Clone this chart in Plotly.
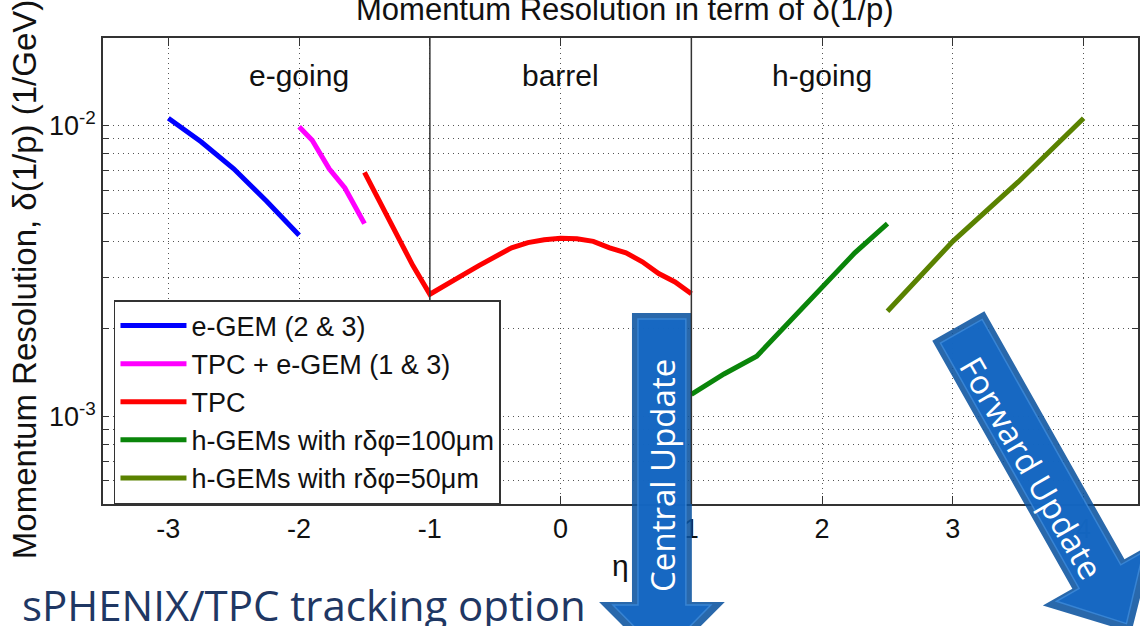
import plotly.graph_objects as go
import numpy as np

# ---------------- data ----------------
eta_egem = [-3.0, -2.75, -2.5, -2.25, -2.0]
res_egem = [0.0106, 0.0088, 0.0071, 0.0055, 0.0042]

eta_tpc_egem = [-2.0, -1.9, -1.77, -1.65, -1.5]
res_tpc_egem = [0.0099, 0.0089, 0.0071, 0.0061, 0.0046]

eta_tpc = [-1.5, -1.385, -1.256, -1.13, -1.0, -0.875, -0.75, -0.625, -0.5, -0.375, -0.25, -0.125,
           0.0, 0.125, 0.25, 0.375, 0.5, 0.625, 0.75, 0.875, 1.0]
res_tpc = [0.0069, 0.0055, 0.0042, 0.0033, 0.00263, 0.00285, 0.00306, 0.0033, 0.00356, 0.0038,
           0.00396, 0.00405, 0.0041, 0.00408, 0.0040, 0.0038, 0.00365, 0.0034, 0.0031, 0.0029,
           0.00264]

eta_h100 = [1.0, 1.25, 1.5, 1.71, 2.0, 2.25, 2.5]
res_h100 = [0.00119, 0.0014, 0.00161, 0.00203, 0.0028, 0.00365, 0.0046]

eta_h50 = [2.5, 3.0, 3.5, 4.0]
res_h50 = [0.0023, 0.0040, 0.0064, 0.0106]

series_names = ["e-GEM (2 &amp; 3)", "TPC + e-GEM (1 &amp; 3)", "TPC",
                "h-GEMs with rδφ=100μm", "h-GEMs with rδφ=50μm"]
series_colors = ["#0000FF", "#FF00FF", "#FF0000", "#0A850A", "#5A8200"]

region_labels = ["e-going", "barrel", "h-going"]
region_centers = [-2, 0, 2]
region_bounds = [-1, 1]

x_ticks = [-3, -2, -1, 0, 1, 2, 3, 4]
y_ticks = [5e-4, 6e-4, 7e-4, 8e-4, 9e-4, 1e-3, 2e-3, 3e-3, 4e-3, 5e-3, 6e-3, 7e-3, 8e-3, 9e-3, 1e-2]
y_ticktext = ["" if v not in (1e-3, 1e-2) else ("10<sup>-3</sup>" if v == 1e-3 else "10<sup>-2</sup>")
              for v in y_ticks]

# ---------------- layout geometry (pixels) ----------------
W, H = 1140, 626
L, R, T, B = 103, 0, 38, 122
PW = W - L - R
PH = H - T - B
X_RANGE = [-3.5, -3.5 + PW / 131.0]
Y_RANGE = [np.log10(5e-4), np.log10(2e-2)]


def px(xp):
    return (xp - L) / PW


def py(yp):
    return (H - B - yp) / PH


FONT = "Liberation Sans, Arial, sans-serif"
SLIDE_FONT = "Open Sans, sans-serif"

fig = go.Figure()
for xs, ys, name, col in zip([eta_egem, eta_tpc_egem, eta_tpc, eta_h100, eta_h50],
                             [res_egem, res_tpc_egem, res_tpc, res_h100, res_h50],
                             series_names, series_colors):
    fig.add_trace(go.Scatter(x=xs, y=ys, mode="lines", name=name,
                             line=dict(color=col, width=5)))

shapes = []


def arrow_path(origin, theta_deg, shaft_hw, head_start, head_hw, tip):
    th = np.radians(theta_deg)
    d = np.array([np.cos(th), np.sin(th)])
    n = np.array([-d[1], d[0]])
    o = np.array(origin, dtype=float)
    local = [(0, -shaft_hw), (head_start, -shaft_hw), (head_start, -head_hw), (tip, 0),
             (head_start, head_hw), (head_start, shaft_hw), (0, shaft_hw)]
    pts = [o + a * d + c * n for a, c in local]
    return "M " + " L ".join(f"{px(p[0]):.5f},{py(p[1]):.5f}" for p in pts) + " Z"


def add_arrow(origin, theta, shaft_hw, head_start, head_hw, tip):
    shapes.append(dict(type="path", xref="paper", yref="paper",
                       path=arrow_path(origin, theta, shaft_hw, head_start, head_hw, tip),
                       fillcolor="#0B539F", line=dict(width=0), opacity=0.88, layer="above"))
    o = np.array(origin, dtype=float)
    th = np.radians(theta)
    d = np.array([np.cos(th), np.sin(th)])
    o2 = o + 6 * d
    shapes.append(dict(type="path", xref="paper", yref="paper",
                       path=arrow_path(o2, theta, shaft_hw - 6, head_start - 3, head_hw - 14, tip - 16),
                       fillcolor="#1569C6", line=dict(color="#3A88DA", width=1.5),
                       opacity=0.88, layer="above"))


# Central update arrow (vertical)
add_arrow((663, 313), 90, 30, 289, 63, 352)
# Forward update arrow (diagonal)
add_arrow((960, 326), 60.5, 30, 285, 64, 352)

# region boundaries drawn on top
for b in region_bounds:
    shapes.append(dict(type="line", xref="x", yref="paper", x0=b, x1=b, y0=0, y1=1,
                       line=dict(color="#333333", width=1.5), layer="above"))

annotations = []
for lab, c in zip(region_labels, region_centers):
    annotations.append(dict(x=c, y=py(75), xref="x", yref="paper", text=lab, showarrow=False,
                            xanchor="center", yanchor="middle",
                            font=dict(family=FONT, size=30, color="#111111")))
annotations += [
    dict(x=px(626), y=py(10), xref="paper", yref="paper",
         text="Momentum Resolution in term of δ(1/p)", showarrow=False,
         xanchor="center", yanchor="middle",
         font=dict(family=FONT, size=31, color="#111111")),
    dict(x=px(24), y=py(280), xref="paper", yref="paper", textangle=-90,
         text="Momentum Resolution, δ(1/p) (1/GeV)", showarrow=False,
         xanchor="center", yanchor="middle",
         font=dict(family=FONT, size=33, color="#111111")),
    dict(x=px(622), y=py(565), xref="paper", yref="paper", text="η", showarrow=False,
         xanchor="center", yanchor="middle",
         font=dict(family=FONT, size=30, color="#111111")),
    dict(x=px(20), y=py(604), xref="paper", yref="paper", xanchor="left", yanchor="middle",
         text="sPHENIX/TPC tracking option", showarrow=False,
         font=dict(family=SLIDE_FONT, size=42, color="#1F3763")),
    dict(x=px(663), y=py(475), xref="paper", yref="paper", textangle=-90,
         xanchor="center", yanchor="middle",
         text="Central Update", showarrow=False,
         font=dict(family=SLIDE_FONT, size=33, color="white")),
    dict(x=px(1034), y=py(468), xref="paper", yref="paper", textangle=60,
         xanchor="center", yanchor="middle",
         text="Forward Update", showarrow=False,
         font=dict(family=SLIDE_FONT, size=33, color="white")),
]

fig.update_layout(
    width=W, height=H,
    margin=dict(l=L, r=R, t=T, b=B, pad=0),
    paper_bgcolor="white", plot_bgcolor="white",
    showlegend=True,
    legend=dict(x=px(114), y=py(300), xanchor="left", yanchor="top",
                bgcolor="white", bordercolor="#333333", borderwidth=1.5,
                font=dict(family=FONT, size=27, color="#111111"),
                itemwidth=66),
    shapes=shapes,
    annotations=annotations,
    xaxis=dict(range=X_RANGE, tickvals=x_ticks, ticktext=[str(v) for v in x_ticks],
               ticks="inside", ticklen=8, tickcolor="#333333",
               showline=True, linecolor="#333333", linewidth=1.5, mirror="ticks",
               showgrid=True, gridcolor="#555555", griddash="1px,4px", gridwidth=1.2,
               zeroline=False,
               tickfont=dict(family=FONT, size=27, color="#111111")),
    yaxis=dict(type="log", range=Y_RANGE, tickvals=y_ticks, ticktext=y_ticktext,
               ticks="inside", ticklen=6, tickcolor="#333333",
               showline=True, linecolor="#333333", linewidth=1.5, mirror="ticks",
               showgrid=True, gridcolor="#555555", griddash="1px,4px", gridwidth=1.2,
               zeroline=False,
               tickfont=dict(family=FONT, size=27, color="#111111")),
)

fig.write_html("out.html")
